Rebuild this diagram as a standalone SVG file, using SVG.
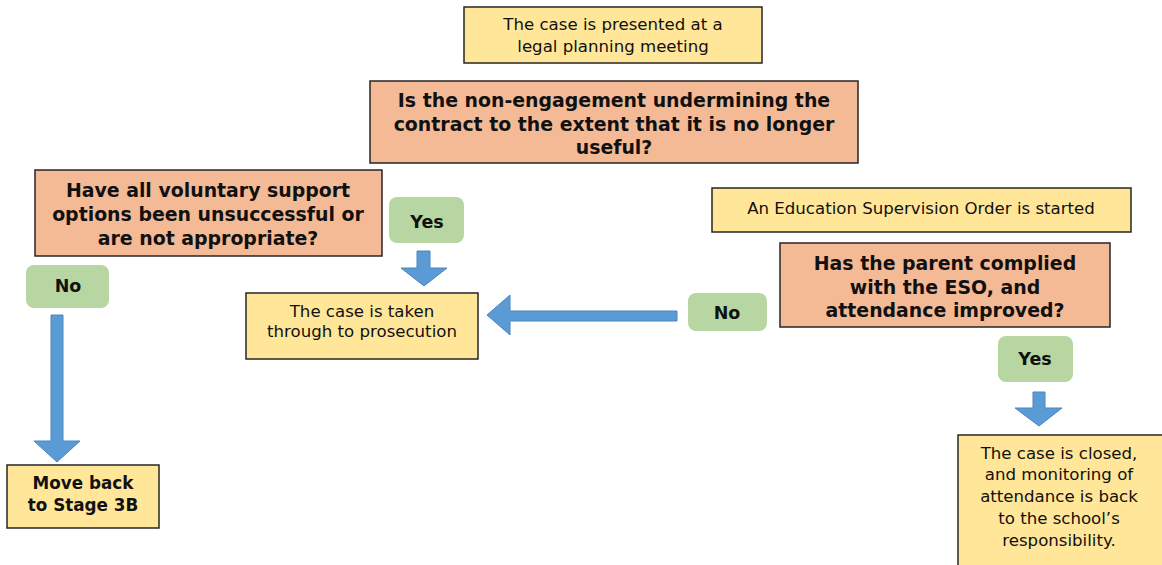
<svg xmlns="http://www.w3.org/2000/svg" width="1162" height="565" viewBox="0 0 1162 565">
<style>
.y{fill:#FFE699;stroke:#262626;stroke-width:1.5}
.o{fill:#F4B995;stroke:#262626;stroke-width:1.5}
.g{fill:#B7D6A1;stroke:none}
.ar{fill:#5B9BD5;stroke:#4A86BE;stroke-width:1}
text{font-family:"DejaVu Sans","Verdana",sans-serif;fill:#111;text-anchor:middle}
.r{font-size:16.6px}
.b{font-size:18.9px;font-weight:bold}
.bs{font-size:16.8px;font-weight:bold}
.yn{font-size:17.5px;font-weight:bold}
</style>
<rect width="1162" height="565" fill="#fff"/>
<g id="n1"><rect class="y" x="464" y="7" width="298" height="56"/><text class="r" x="613" y="30">The case is presented at a</text><text class="r" x="613" y="52">legal planning meeting</text></g>
<g id="n2"><rect class="o" x="370" y="81" width="488" height="82"/><text class="b" x="614" y="107">Is the non-engagement undermining the</text><text class="b" x="614" y="131">contract to the extent that it is no longer</text><text class="b" x="614" y="154">useful?</text></g>
<g id="n3"><rect class="o" x="35" y="170" width="347" height="86"/><text class="b" x="208" y="197">Have all voluntary support</text><text class="b" x="208" y="221">options been unsuccessful or</text><text class="b" x="208" y="245">are not appropriate?</text></g>
<g id="n4"><rect class="g" x="389" y="197" width="75" height="46" rx="8"/><text class="yn" x="427" y="228">Yes</text></g>
<g id="n5"><rect class="g" x="26" y="265" width="83" height="43" rx="8"/><text class="yn" x="68" y="292">No</text></g>
<g id="n6"><rect class="y" x="7" y="465" width="152" height="63"/><text class="bs" x="83" y="489">Move back</text><text class="bs" x="83" y="511">to Stage 3B</text></g>
<g id="n7"><rect class="y" x="246" y="293" width="232" height="66"/><text class="r" x="362" y="317">The case is taken</text><text class="r" x="362" y="337">through to prosecution</text></g>
<g id="n8"><rect class="g" x="688" y="293" width="79" height="38" rx="8"/><text class="yn" x="727" y="319">No</text></g>
<g id="n9"><rect class="y" x="712" y="188" width="419" height="44"/><text class="r" x="921" y="214">An Education Supervision Order is started</text></g>
<g id="n10"><rect class="o" x="780" y="243" width="330" height="84"/><text class="b" x="945" y="270">Has the parent complied</text><text class="b" x="945" y="294">with the ESO, and</text><text class="b" x="945" y="317">attendance improved?</text></g>
<g id="n11"><rect class="g" x="998" y="336" width="75" height="46" rx="8"/><text class="yn" x="1035" y="365">Yes</text></g>
<g id="n12"><rect class="y" x="958" y="435" width="210" height="140"/><text class="r" x="1059" y="459">The case is closed,</text><text class="r" x="1059" y="480">and monitoring of</text><text class="r" x="1059" y="502">attendance is back</text><text class="r" x="1059" y="524">to the school’s</text><text class="r" x="1059" y="546">responsibility.</text></g>
<g id="connectors">
<polygon class="ar" points="417,251 430,251 430,268 447,268 424,286 401,268 417,268"/>
<polygon class="ar" points="51,315 63,315 63,441 80,441 57,462 34,441 51,441"/>
<polygon class="ar" points="677,311 677,321 510,321 510,335 487,315 510,295 510,311"/>
<polygon class="ar" points="1033,392 1045,392 1045,408 1062,408 1039,426 1015,408 1033,408"/>
</g>
</svg>
